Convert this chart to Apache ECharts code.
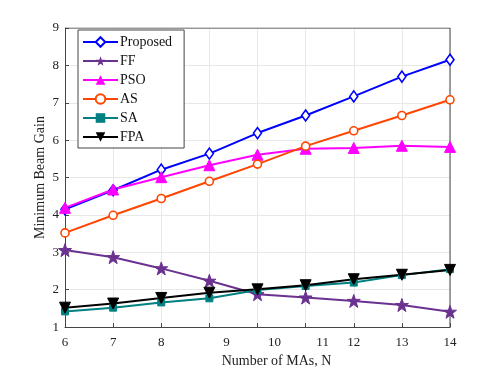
<!DOCTYPE html>
<html><head><meta charset="utf-8">
<script src="https://cdn.jsdelivr.net/npm/echarts@6/dist/echarts.min.js"></script>
<style>html,body{margin:0;padding:0;background:#fff}#c{width:497px;height:373px}</style>
</head><body><div id="c"></div>
<script>
const nVals = [6, 7, 8, 9, 10, 11, 12, 13, 14];
const proposed = [4.15, 4.66, 5.21, 5.64, 6.19, 6.66, 7.17, 7.70, 8.15];
const ff = [3.06, 2.87, 2.57, 2.24, 1.88, 1.79, 1.70, 1.59, 1.41];
const pso = [4.19, 4.68, 5.01, 5.33, 5.61, 5.77, 5.79, 5.85, 5.82];
const asv = [3.52, 3.99, 4.44, 4.90, 5.36, 5.84, 6.25, 6.66, 7.08];
const sa = [1.42, 1.52, 1.66, 1.77, 1.99, 2.10, 2.19, 2.39, 2.55];
const fpa = [1.52, 1.63, 1.78, 1.92, 2.01, 2.12, 2.28, 2.40, 2.53];
const xShifted = [9, 10, 11];
const seriesNames = ['Proposed', 'FF', 'PSO', 'AS', 'SA', 'FPA'];

const font = 'Liberation Serif';
const pairs = a => nVals.map((n, i) => [n, a[i]]);
function mk(name, data, color, symbol, size, hollow) {
  return {
    name, type: 'line', data: pairs(data), symbol, symbolSize: size,
    showSymbol: true,
    lineStyle: { color, width: 2 },
    itemStyle: hollow ? { color: '#fff', borderColor: color, borderWidth: 1.6 } : { color, borderColor: color },
    emphasis: { disabled: true }
  };
}
const chart = echarts.init(document.getElementById('c'));
chart.setOption({
  animation: false,
  grid: { left: 65, right: 47, top: 28, bottom: 45 },
  xAxis: {
    type: 'value', min: 6, max: 14, interval: 1,
    name: 'Number of MAs, N', nameLocation: 'middle', nameGap: 12,
    nameTextStyle: { fontFamily: font, fontSize: 14, color: '#222', padding: [0, 0, 0, 38] },
    axisLine: { lineStyle: { color: '#444', width: 1 } },
    axisTick: { inside: true, length: 4, lineStyle: { color: '#444' } },
    axisLabel: {
      fontFamily: font, fontSize: 13, color: '#222', margin: 9,
      formatter: v => xShifted.includes(v) ? '{s|' + v + '}' : String(v),
      rich: { s: { fontFamily: font, fontSize: 13, color: '#222', padding: [0, 0, 0, 34] } }
    },
    splitLine: { show: true, lineStyle: { color: '#e8e8e8', width: 1 } }
  },
  yAxis: {
    type: 'value', min: 1, max: 9, interval: 1,
    name: 'Minimum Beam Gain', nameLocation: 'middle', nameGap: 18, nameMoveOverlap: false,
    nameTextStyle: { fontFamily: font, fontSize: 14, color: '#222' },
    axisLine: { show: true, lineStyle: { color: '#444', width: 1 } },
    axisTick: { show: true, inside: true, length: 4, lineStyle: { color: '#444' } },
    axisLabel: { fontFamily: font, fontSize: 13, color: '#222', margin: 6 },
    splitLine: { show: true, lineStyle: { color: '#e8e8e8', width: 1 } }
  },
  legend: {
    orient: 'vertical', left: 78, top: 30,
    data: seriesNames,
    itemWidth: 35, itemHeight: 12, itemGap: 5,
    backgroundColor: '#fff', borderColor: '#444', borderWidth: 1,
    padding: [5, 12, 4, 4],
    textStyle: { fontFamily: font, fontSize: 14, color: '#111', padding: [0, 0, 0, -3] }
  },
  series: [
    mk('Proposed', proposed, '#0000ff', 'diamond', [8, 11], true),
    mk('FF', ff, '#6a3190', 'path://M0,-10 L2.35,-3.24 L9.51,-3.09 L3.8,1.24 L5.88,8.09 L0,4 L-5.88,8.09 L-3.8,1.24 L-9.51,-3.09 L-2.35,-3.24 Z', 13, false),
    mk('PSO', pso, '#ff00ff', 'triangle', 11, false),
    mk('AS', asv, '#ff4500', 'circle', 8, true),
    mk('SA', sa, '#008080', 'rect', 7, false),
    mk('FPA', fpa, '#000000', 'path://M-1,-1 L1,-1 L0,1 Z', 11, false),
    {
      type: 'line', data: [[6, 9], [14, 9], [14, 1]], symbol: 'none', silent: true,
      lineStyle: { color: '#444', width: 1 }, z: 1
    }
  ]
});
</script></body></html>
